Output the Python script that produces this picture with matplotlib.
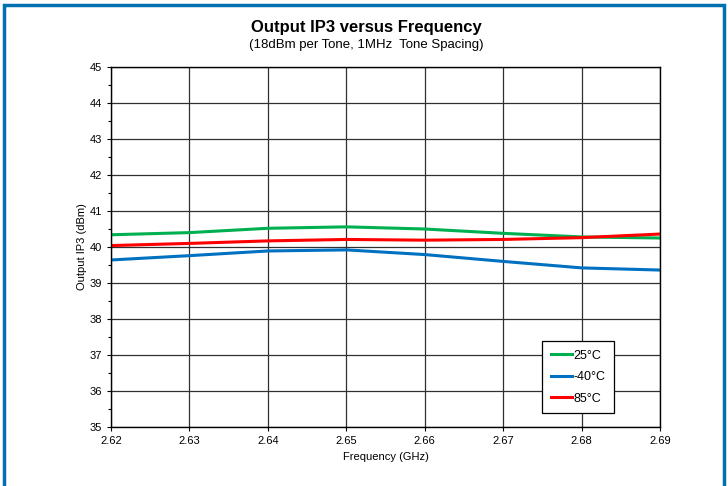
import matplotlib.pyplot as plt
from matplotlib.patches import Rectangle
from matplotlib.ticker import MultipleLocator

plt.rcParams['font.family'] = ['Liberation Sans', 'DejaVu Sans']

freq = [2.62, 2.63, 2.64, 2.65, 2.66, 2.67, 2.68, 2.69]
oip3_25c = [40.34, 40.40, 40.52, 40.56, 40.50, 40.38, 40.28, 40.25]
oip3_m40c = [39.64, 39.76, 39.89, 39.92, 39.79, 39.60, 39.42, 39.36]
oip3_85c = [40.04, 40.10, 40.17, 40.21, 40.19, 40.21, 40.26, 40.36]

series = [
    ('25°C', oip3_25c, '#00b050'),
    ('-40°C', oip3_m40c, '#0070c0'),
    ('85°C', oip3_85c, '#ff0000'),
]

fig = plt.figure(figsize=(7.28, 4.86), dpi=100)
ax = fig.add_axes([0.1525, 0.1214, 0.7541, 0.7407])

for label, vals, color in series:
    ax.plot(freq, vals, color=color, lw=2.2, label=label)

ax.set_xlim(2.62, 2.69)
ax.set_ylim(35, 45)
ax.set_xticks(freq)
ax.set_xticklabels([f'{f:.2f}' for f in freq])
ax.yaxis.set_major_locator(MultipleLocator(1))
ax.yaxis.set_minor_locator(MultipleLocator(0.5))
ax.tick_params(axis='both', labelsize=8, direction='out', length=3, width=0.8)
ax.tick_params(axis='y', which='minor', length=2, width=0.8)
ax.grid(True, which='major', color='#303030', lw=0.9)
ax.set_axisbelow(True)
for s in ax.spines.values():
    s.set_color('black')
    s.set_linewidth(1.0)

ax.set_xlabel('Frequency (GHz)', fontsize=8, labelpad=4)
ax.set_ylabel('Output IP3 (dBm)', fontsize=8, labelpad=2)

fig.text(0.503, 0.944, 'Output IP3 versus Frequency', ha='center', va='center',
         fontsize=12, fontweight='bold')
fig.text(0.503, 0.907, '(18dBm per Tone, 1MHz  Tone Spacing)', ha='center', va='center',
         fontsize=9.5)

leg = ax.legend(loc='lower left', bbox_to_anchor=(0.785, 0.038), fontsize=9,
                frameon=True, fancybox=False, framealpha=1, edgecolor='black',
                handlelength=1.7, handletextpad=0.1, labelspacing=0.75,
                borderpad=0.7, borderaxespad=0)
leg.get_frame().set_linewidth(0.9)

fig.patches.append(Rectangle((0.0055, -0.05), 0.9890, 1.04, transform=fig.transFigure,
                             fill=False, edgecolor='#0070b0', lw=2.5))

fig.savefig('out.png', dpi=100, facecolor='white')
